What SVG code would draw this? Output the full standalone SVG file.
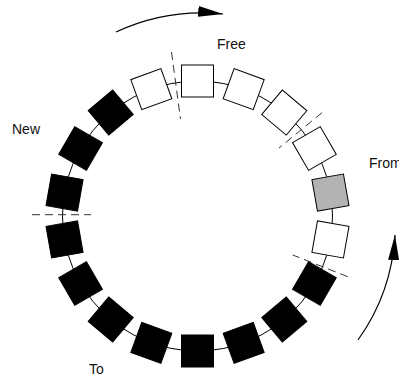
<svg xmlns="http://www.w3.org/2000/svg" width="399" height="377" viewBox="0 0 399 377">
  <style>
    .slot { stroke: #000; stroke-width: 1; }
    .free { fill: #fff; }
    .used { fill: #000; }
    .cur { fill: #b3b3b3; }
    .ring { fill: none; stroke: #000; stroke-width: 1; }
    .sep { stroke: #333; stroke-width: 1; stroke-dasharray: 8 5; fill: none; }
    .dir { fill: none; stroke: #000; stroke-width: 1.2; }
    .lbl { font-family: "Liberation Sans", Arial, sans-serif; font-size: 14px; fill: #111; }
  </style>
  <defs>
    <marker id="head" markerUnits="userSpaceOnUse" viewBox="0 0 26 12" markerWidth="26" markerHeight="12" refX="25" refY="6" orient="auto">
      <path d="M0,0.5 L25,6 L0,11.5 z" fill="#000"/>
    </marker>
    <!-- one slot at the top of the ring; others are rotations about the ring centre -->
    <rect id="slot" x="181.5" y="65" width="32" height="32"/>
  </defs>

  <g id="connectors">
    <circle class="ring" cx="197.5" cy="216" r="135"/>
    <!-- region separators -->
    <line class="sep" x1="171.5" y1="52" x2="180.5" y2="119"/>
    <line class="sep" x1="322" y1="112.7" x2="279" y2="148"/>
    <line class="sep" x1="347.7" y1="276.7" x2="292.7" y2="255"/>
    <line class="sep" x1="32" y1="214.7" x2="91" y2="214.7"/>
    <!-- direction arrows -->
    <path class="dir" d="M116,32 A203,203 0 0 1 223,14" marker-end="url(#head)"/>
    <path class="dir" d="M358,340 A200,200 0 0 0 395,235" marker-end="url(#head)"/>
  </g>

  <g id="s0"><use href="#slot" class="slot free" transform="rotate(0 197.5 216)"/></g>
  <g id="s1"><use href="#slot" class="slot free" transform="rotate(20 197.5 216)"/></g>
  <g id="s2"><use href="#slot" class="slot free" transform="rotate(40 197.5 216)"/></g>
  <g id="s3"><use href="#slot" class="slot free" transform="rotate(60 197.5 216)"/></g>
  <g id="s4"><use href="#slot" class="slot cur" transform="rotate(80 197.5 216)"/></g>
  <g id="s5"><use href="#slot" class="slot free" transform="rotate(100 197.5 216)"/></g>
  <g id="s6"><use href="#slot" class="slot used" transform="rotate(120 197.5 216)"/></g>
  <g id="s7"><use href="#slot" class="slot used" transform="rotate(140 197.5 216)"/></g>
  <g id="s8"><use href="#slot" class="slot used" transform="rotate(160 197.5 216)"/></g>
  <g id="s9"><use href="#slot" class="slot used" transform="rotate(180 197.5 216)"/></g>
  <g id="s10"><use href="#slot" class="slot used" transform="rotate(200 197.5 216)"/></g>
  <g id="s11"><use href="#slot" class="slot used" transform="rotate(220 197.5 216)"/></g>
  <g id="s12"><use href="#slot" class="slot used" transform="rotate(240 197.5 216)"/></g>
  <g id="s13"><use href="#slot" class="slot used" transform="rotate(260 197.5 216)"/></g>
  <g id="s14"><use href="#slot" class="slot used" transform="rotate(280 197.5 216)"/></g>
  <g id="s15"><use href="#slot" class="slot used" transform="rotate(300 197.5 216)"/></g>
  <g id="s16"><use href="#slot" class="slot used" transform="rotate(320 197.5 216)"/></g>
  <g id="s17"><use href="#slot" class="slot free" transform="rotate(340 197.5 216)"/></g>

  <g id="labels">
    <text class="lbl" x="217" y="49">Free</text>
    <text class="lbl" x="12" y="134">New</text>
    <text class="lbl" x="369" y="168">From</text>
    <text class="lbl" x="89" y="374">To</text>
  </g>
</svg>
